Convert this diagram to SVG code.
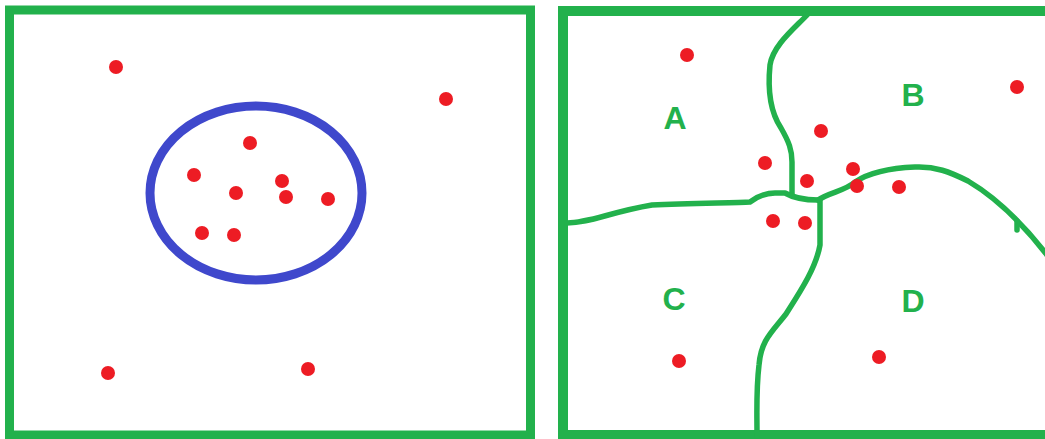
<svg xmlns="http://www.w3.org/2000/svg" width="1045" height="439" viewBox="0 0 1045 439">
<style>
.frame{fill:none;stroke:#22B14C;stroke-width:9}
.border{fill:none;stroke:#22B14C;stroke-width:5.5;stroke-linejoin:round;stroke-linecap:round}
.dot{fill:#ED1C24}
.lbl{font-family:"Liberation Sans",Arial,sans-serif;font-weight:bold;font-size:32px;fill:#22B14C;text-anchor:middle}
</style>
<rect width="1045" height="439" fill="#ffffff"/>
<g id="left-panel">
<rect class="frame" x="9.5" y="10" width="521" height="425"/>
<ellipse id="cluster" cx="256" cy="193" rx="106" ry="87" fill="none" stroke="#3F48CC" stroke-width="9"/>
<g id="left-points">
<circle class="dot" cx="116" cy="67" r="7"/>
<circle class="dot" cx="446" cy="99" r="7"/>
<circle class="dot" cx="250" cy="143" r="7"/>
<circle class="dot" cx="194" cy="175" r="7"/>
<circle class="dot" cx="236" cy="193" r="7"/>
<circle class="dot" cx="282" cy="181" r="7"/>
<circle class="dot" cx="286" cy="197" r="7"/>
<circle class="dot" cx="328" cy="199" r="7"/>
<circle class="dot" cx="202" cy="233" r="7"/>
<circle class="dot" cx="234" cy="235" r="7"/>
<circle class="dot" cx="108" cy="373" r="7"/>
<circle class="dot" cx="308" cy="369" r="7"/>
</g>
</g>
<g id="right-panel">
<path class="frame" d="M1050 11 H563 V435 H1050" style="stroke-width:10"/>
<g id="connectors">
<path class="border" d="M808 14 C795 28 773 45 770 65 C768 85 769 110 781 128 C789 142 792 150 792 162 L792 195"/>
<path class="border" d="M567 223 C590 223 610 212 652 205 C690 203 735 203 750 202 C758 196 765 193 775 193 L785 193 C792 197 800 200 818 200"/>
<path class="border" d="M820 200 L820 245 C816 268 800 292 786 314 C772 332 761 340 759 365 C756 390 757 410 757 436"/>
<path class="border" d="M818 200 C830 192 845 191 855 182 C870 172 890 168 915 167 C935 166 950 172 968 181 C995 197 1020 220 1047 255"/>
<path class="border" d="M1017 221 L1017 230"/>
</g>
<g id="right-points">
<circle class="dot" cx="687" cy="55" r="7"/>
<circle class="dot" cx="1017" cy="87" r="7"/>
<circle class="dot" cx="821" cy="131" r="7"/>
<circle class="dot" cx="765" cy="163" r="7"/>
<circle class="dot" cx="807" cy="181" r="7"/>
<circle class="dot" cx="853" cy="169" r="7"/>
<circle class="dot" cx="857" cy="186" r="7"/>
<circle class="dot" cx="899" cy="187" r="7"/>
<circle class="dot" cx="773" cy="221" r="7"/>
<circle class="dot" cx="805" cy="223" r="7"/>
<circle class="dot" cx="679" cy="361" r="7"/>
<circle class="dot" cx="879" cy="357" r="7"/>
</g>
<g id="region-A"><text class="lbl" x="675" y="129">A</text></g>
<g id="region-B"><text class="lbl" x="913" y="106">B</text></g>
<g id="region-C"><text class="lbl" x="674" y="310">C</text></g>
<g id="region-D"><text class="lbl" x="913" y="312">D</text></g>
</g>
</svg>
